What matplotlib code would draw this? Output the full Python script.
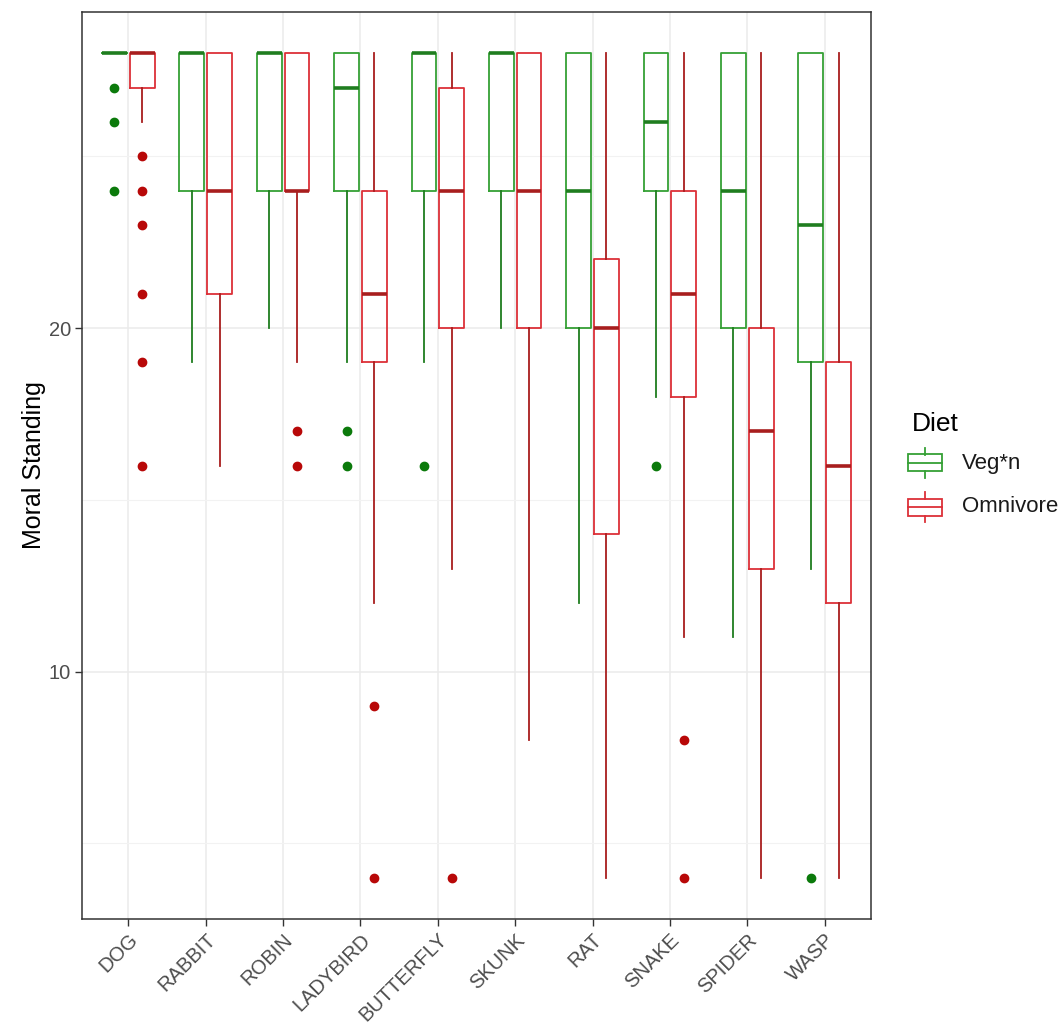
import matplotlib
matplotlib.use("Agg")
import matplotlib.pyplot as plt
from matplotlib.patches import Rectangle
from matplotlib.lines import Line2D

plt.rcParams['font.family'] = ['Liberation Sans', 'DejaVu Sans']

animals = ['DOG', 'RABBIT', 'ROBIN', 'LADYBIRD', 'BUTTERFLY',
           'SKUNK', 'RAT', 'SNAKE', 'SPIDER', 'WASP']
diets = ['Veg*n', 'Omnivore']

# box statistics, one list per diet
veg_q1 = [28, 24, 24, 24, 24, 24, 20, 24, 20, 19]
veg_med = [28, 28, 28, 27, 28, 28, 24, 26, 24, 23]
veg_q3 = [28, 28, 28, 28, 28, 28, 28, 28, 28, 28]
veg_lo = [28, 19, 20, 19, 19, 20, 12, 18, 11, 13]
veg_hi = [28, 28, 28, 28, 28, 28, 28, 28, 28, 28]
veg_out = [[27, 26, 24], [], [], [17, 16], [16], [], [], [16], [], [4]]

omn_q1 = [27, 21, 24, 19, 20, 20, 14, 18, 13, 12]
omn_med = [28, 24, 24, 21, 24, 24, 20, 21, 17, 16]
omn_q3 = [28, 28, 28, 24, 27, 28, 22, 24, 20, 19]
omn_lo = [26, 16, 19, 12, 13, 8, 4, 11, 4, 4]
omn_hi = [28, 28, 28, 28, 28, 28, 28, 28, 28, 28]
omn_out = [[25, 24, 23, 21, 19, 16], [], [17, 16], [9, 4], [4], [], [], [8, 4], [], []]

line_cols = ['#35a035', '#dc3038']
dark_cols = ['#1f7d1f', '#a81e1e']
point_cols = ['#0b7a0b', '#b80808']

W, H = 1063, 1035


def make_stats(q1, med, q3, lo, hi, out):
    stats = []
    for i in range(len(q1)):
        stats.append(dict(q1=q1[i], med=med[i], q3=q3[i],
                          whislo=lo[i], whishi=hi[i], fliers=out[i]))
    return stats


fig = plt.figure(figsize=(W / 100, H / 100), dpi=100)
ax = fig.add_axes([82 / W, 116 / H, 789 / W, 907 / H])

groups = [make_stats(veg_q1, veg_med, veg_q3, veg_lo, veg_hi, veg_out),
          make_stats(omn_q1, omn_med, omn_q3, omn_lo, omn_hi, omn_out)]
offsets = [-0.18, 0.18]

for k in range(2):
    pos = [i + 1 + offsets[k] for i in range(len(animals))]
    ax.bxp(groups[k], positions=pos, widths=0.32, showcaps=False,
           boxprops=dict(color=line_cols[k], linewidth=1.3),
           whiskerprops=dict(color=dark_cols[k], linewidth=1.3),
           medianprops=dict(color=dark_cols[k], linewidth=2.6, solid_capstyle='butt'),
           flierprops=dict(marker='o', markersize=6, markerfacecolor=point_cols[k],
                           markeredgecolor=point_cols[k]),
           manage_ticks=False, zorder=3)

ax.set_xlim(0.4, len(animals) + 0.6)
ax.set_ylim(2.8, 29.2)
ax.set_xticks(range(1, len(animals) + 1))
ax.set_xticklabels(animals, rotation=45, ha='right', va='top',
                   rotation_mode='anchor', fontsize=14.5, color='#4d4d4d')
ax.set_yticks([10, 20])
ax.set_yticks([5, 15, 25], minor=True)
ax.tick_params(axis='y', which='minor', length=0)
ax.tick_params(axis='both', which='major', length=5, width=1, color='#333333',
               labelsize=14.5, labelcolor='#4d4d4d', pad=3)
ax.grid(which='major', color='#ebebeb', linewidth=1.1, zorder=0)
ax.grid(which='minor', axis='y', color='#f2f2f2', linewidth=0.8, zorder=0)
ax.set_axisbelow(True)
for s in ax.spines.values():
    s.set_color('#333333')
    s.set_linewidth(1.1)
ax.set_ylabel('Moral Standing', fontsize=18, labelpad=2)

# legend drawn by hand, ggplot style box keys
def fx(px):
    return px / W


def fy(py):
    return 1 - py / H


fig.text(fx(912), fy(424), 'Diet', fontsize=19, ha='left', va='center')
key_centers = [463, 507]
for k in range(2):
    cy = key_centers[k]
    x0, x1 = 908, 942
    cx = (x0 + x1) / 2
    fig.add_artist(Rectangle((fx(x0), fy(cy + 8.5)), fx(x1 - x0), 17 / H, fill=False,
                             edgecolor=line_cols[k], linewidth=1.3,
                             transform=fig.transFigure))
    fig.add_artist(Line2D([fx(x0), fx(x1)], [fy(cy), fy(cy)], color=line_cols[k],
                          linewidth=1.3, transform=fig.transFigure))
    fig.add_artist(Line2D([fx(cx), fx(cx)], [fy(cy - 8.5), fy(cy - 15)],
                          color=line_cols[k], linewidth=1.3, transform=fig.transFigure))
    fig.add_artist(Line2D([fx(cx), fx(cx)], [fy(cy + 8.5), fy(cy + 15)],
                          color=line_cols[k], linewidth=1.3, transform=fig.transFigure))
    fig.text(fx(962), fy(cy), diets[k], fontsize=16, ha='left', va='center',
             color='#1a1a1a')

fig.savefig('out.png', dpi=100)
